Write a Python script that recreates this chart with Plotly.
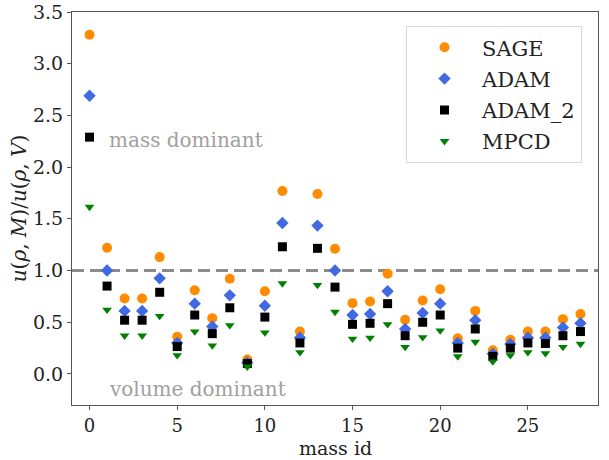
import plotly.graph_objects as go

mass_id = list(range(29))
sage = [3.28, 1.22, 0.73, 0.73, 1.13, 0.36, 0.81, 0.54, 0.92, 0.14, 0.80, 1.77, 0.41, 1.74, 1.21,
        0.685, 0.70, 0.97, 0.525, 0.71, 0.82, 0.345, 0.61, 0.23, 0.33, 0.41, 0.41, 0.53, 0.58]
adam = [2.69, 1.00, 0.61, 0.61, 0.925, 0.30, 0.68, 0.46, 0.76, 0.11, 0.66, 1.46, 0.35, 1.435, 1.00,
        0.57, 0.58, 0.80, 0.435, 0.59, 0.68, 0.30, 0.52, 0.195, 0.29, 0.35, 0.35, 0.45, 0.49]
adam_2 = [2.29, 0.85, 0.52, 0.52, 0.79, 0.265, 0.57, 0.39, 0.64, 0.10, 0.55, 1.23, 0.30, 1.215, 0.84,
          0.48, 0.49, 0.68, 0.37, 0.50, 0.57, 0.25, 0.435, 0.17, 0.25, 0.30, 0.295, 0.37, 0.41]
mpcd = [1.615, 0.62, 0.37, 0.37, 0.56, 0.18, 0.41, 0.275, 0.47, 0.07, 0.40, 0.875, 0.21, 0.86, 0.60,
        0.34, 0.35, 0.48, 0.26, 0.355, 0.42, 0.17, 0.31, 0.12, 0.18, 0.21, 0.20, 0.26, 0.29]

series_names = ["SAGE", "ADAM", "ADAM_2", "MPCD"]
series_values = [sage, adam, adam_2, mpcd]
series_colors = ["#FF8C00", "#4169E1", "#000000", "#008000"]
series_symbols = ["circle", "diamond", "square", "triangle-down"]
series_sizes = [10, 9.5, 9, 8.5]

x_ticks = [0, 5, 10, 15, 20, 25]
y_ticks = [0.0, 0.5, 1.0, 1.5, 2.0, 2.5, 3.0, 3.5]
ref_level = 1.0
x_label = "mass id"
y_label = "<i>u</i>(<i>ρ</i>, <i>M</i>)/<i>u</i>(<i>ρ</i>, <i>V</i>)"
annotations_text = ["mass dominant", "volume dominant"]
annotations_pos = [(1, 2.2), (1, -0.2)]

FONT = "DejaVu Serif"
fig = go.Figure()
for name, vals, col, sym, sz in zip(series_names, series_values, series_colors, series_symbols, series_sizes):
    fig.add_trace(go.Scatter(
        x=mass_id, y=vals, mode="markers", name=name, legendgroup=name,
        marker=dict(color=col, symbol=sym, size=sz, line=dict(width=0)),
    ))

fig.add_shape(type="line", xref="paper", yref="y", x0=0, x1=1, y0=ref_level, y1=ref_level,
              line=dict(color="#8c8c8c", width=3, dash="12px,6px"), layer="below")

for txt, (ax, ay) in zip(annotations_text, annotations_pos):
    fig.add_annotation(x=ax, y=ay, text=txt, showarrow=False, xanchor="left", yanchor="bottom",
                       yshift=-8, font=dict(family=FONT, size=20, color="#a0a0a0"))

# x-axis title placed as a paper annotation, as low as fits in the bottom margin
fig.add_annotation(x=0.5, y=0, xref="paper", yref="paper", text=x_label, showarrow=False,
                   xanchor="center", yanchor="bottom", yshift=-55, borderpad=0,
                   font=dict(family=FONT, size=19, color="#222"))

axis_common = dict(showline=True, linecolor="#555", linewidth=1, mirror=True, ticks="outside",
                   ticklen=4, tickcolor="#555", showgrid=False, zeroline=False, automargin=False)
fig.update_xaxes(range=[-1, 29], tickvals=x_ticks,
                 tickfont=dict(family=FONT, size=18, color="#222"), **axis_common)
fig.update_yaxes(range=[-0.3, 3.5], tickvals=y_ticks, tickformat=".1f",
                 tickfont=dict(family=FONT, size=19, color="#222"),
                 title=dict(text=y_label, font=dict(family=FONT, size=20, color="#222"), standoff=0),
                 **axis_common)

fig.update_layout(
    width=609, height=460, margin=dict(l=72, r=11, t=12, b=55),
    plot_bgcolor="white", paper_bgcolor="white",
    legend=dict(x=0.635, y=0.964, xanchor="left", yanchor="top", bgcolor="white",
                bordercolor="#d8d8d8", borderwidth=1, tracegroupgap=1, itemwidth=65,
                font=dict(family=FONT, size=21, color="#222")),
)
fig.write_html("out.html")
